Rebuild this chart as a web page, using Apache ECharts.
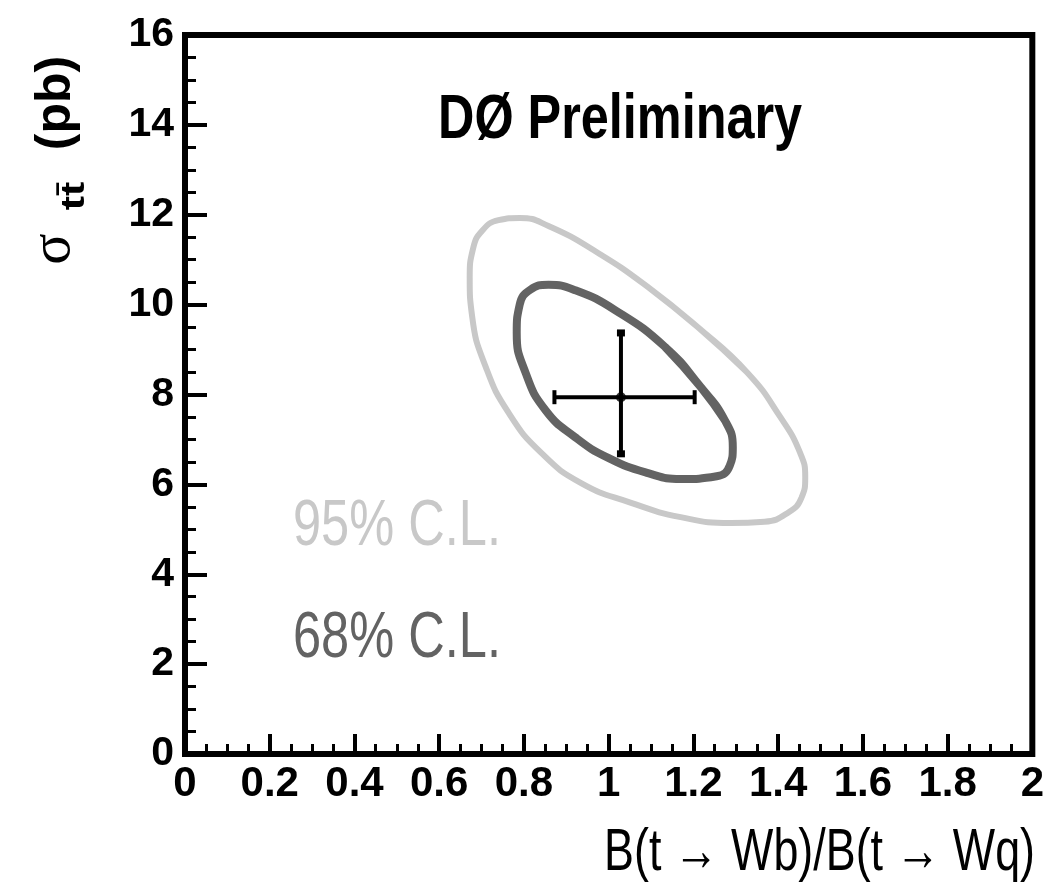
<!DOCTYPE html>
<html>
<head>
<meta charset="utf-8">
<script src="https://cdn.jsdelivr.net/npm/echarts@6/dist/echarts.min.js"></script>
<style>html,body{margin:0;padding:0;background:#fff;}#c{width:1047px;height:887px;}</style>
</head>
<body>
<div id="c"></div>
<script>
// ---- data ----
const xTickValues = [0, 0.2, 0.4, 0.6, 0.8, 1, 1.2, 1.4, 1.6, 1.8, 2];
const yTickValues = [0, 2, 4, 6, 8, 10, 12, 14, 16];
// closed contours; the last two points repeat the first ones so the smoothed loop has no seam
const contour95 = [
  [1.093, 10.39], [1.210, 9.50], [1.328, 8.48], [1.405, 7.50], [1.452, 6.70],
  [1.464, 6.16], [1.455, 5.70], [1.425, 5.38], [1.368, 5.17], [1.288, 5.14],
  [1.170, 5.27], [1.053, 5.59], [0.935, 6.03], [0.841, 6.70], [0.764, 7.59],
  [0.710, 8.61], [0.678, 9.72], [0.672, 10.60], [0.680, 11.25], [0.702, 11.65],
  [0.740, 11.88], [0.790, 11.93], [0.858, 11.75], [0.975, 11.15], [1.093, 10.39],
  [1.210, 9.50], [1.328, 8.48]
];
const contour68 = [
  [1.133, 9.06], [1.217, 8.17], [1.274, 7.43], [1.293, 6.83], [1.286, 6.42],
  [1.255, 6.18], [1.170, 6.12], [1.093, 6.25], [0.999, 6.59], [0.921, 7.05],
  [0.851, 7.65], [0.804, 8.48], [0.783, 9.37], [0.790, 10.00], [0.815, 10.33],
  [0.858, 10.44], [0.921, 10.32], [1.015, 9.88], [1.133, 9.06], [1.217, 8.17],
  [1.274, 7.43]
];
const bestFit = [1.029, 7.94];
const xErrRange = [0.872, 1.203];
const yErrRange = [6.68, 9.37];
const labels = { title: 'DØ Preliminary', cl95: '95% C.L.', cl68: '68% C.L.',
  xName: 'B(t \u2192 Wb)/B(t \u2192 Wq)', ySym: '\u03c3', ySub: 'tt\u0304', yUnit: '(pb)' };

const SANS = "'Liberation Sans', Arial, sans-serif";
const chart = echarts.init(document.getElementById('c'), null, { renderer: 'canvas' });

const option = {
  backgroundColor: '#ffffff',
  animation: false,
  grid: { left: 185, right: 11, top: 35, bottom: 133, show: true,
          borderColor: '#000', borderWidth: 6, backgroundColor: 'transparent' },
  xAxis: {
    type: 'value', min: xTickValues[0], max: xTickValues[xTickValues.length - 1], interval: 0.2,
    axisLine: { show: false },
    axisTick: { show: true, inside: true, length: 20, lineStyle: { color: '#000', width: 4 } },
    minorTick: { show: true, splitNumber: 4, length: 10, lineStyle: { color: '#000', width: 3 } },
    splitLine: { show: false },
    axisLabel: { margin: 9, color: '#000', fontFamily: SANS, fontWeight: 'bold', fontSize: 42,
      showMinLabel: true, showMaxLabel: true }
  },
  yAxis: {
    type: 'value', min: yTickValues[0], max: yTickValues[yTickValues.length - 1], interval: 2,
    axisLine: { show: false },
    axisTick: { show: true, inside: true, length: 22, lineStyle: { color: '#000', width: 4 } },
    minorTick: { show: true, splitNumber: 4, length: 11, lineStyle: { color: '#000', width: 3 } },
    splitLine: { show: false },
    axisLabel: { margin: 11, color: '#000', fontFamily: SANS, fontWeight: 'bold', fontSize: 41,
      showMinLabel: true, showMaxLabel: true }
  },
  series: [
    { type: 'line', data: contour95, smooth: 0.5, symbol: 'none',
      lineStyle: { color: '#c8c8c8', width: 6 }, z: 2 },
    { type: 'line', data: contour68, smooth: 0.5, symbol: 'none',
      lineStyle: { color: '#636363', width: 8 }, z: 3 },
    { type: 'line', data: [[xErrRange[0], bestFit[1]], [xErrRange[1], bestFit[1]]],
      symbol: 'rect', symbolSize: [4, 14], itemStyle: { color: '#000' },
      lineStyle: { color: '#000', width: 4 }, z: 4 },
    { type: 'line', data: [[bestFit[0], yErrRange[1]], [bestFit[0], yErrRange[0]]],
      symbol: 'rect', symbolSize: [8, 7], itemStyle: { color: '#000' },
      lineStyle: { color: '#000', width: 4 }, z: 4 },
    { type: 'scatter', data: [bestFit], symbol: 'circle', symbolSize: 10,
      itemStyle: { color: '#000' }, z: 5 }
  ],
  graphic: [
    { type: 'text', x: 438, y: 121, scaleX: 0.80, z: 10,
      style: { text: labels.title, fontFamily: SANS, fontWeight: 'bold', fontSize: 63,
               fill: '#000', verticalAlign: 'middle', align: 'left' } },
    { type: 'text', x: 293, y: 527, scaleX: 0.79, z: 10,
      style: { text: labels.cl95, fontFamily: SANS, fontSize: 64,
               fill: '#c8c8c8', verticalAlign: 'middle', align: 'left' } },
    { type: 'text', x: 293, y: 639, scaleX: 0.79, z: 10,
      style: { text: labels.cl68, fontFamily: SANS, fontSize: 64,
               fill: '#636363', verticalAlign: 'middle', align: 'left' } },
    { type: 'text', x: 1035, y: 854, scaleX: 0.76, z: 10,
      style: { text: labels.xName, fontFamily: SANS, fontSize: 59,
               fill: '#000', verticalAlign: 'middle', align: 'right' } },
    { type: 'text', x: 54, y: 249, rotation: Math.PI / 2, z: 10,
      style: { text: labels.ySym, fontFamily: "'Liberation Serif', 'DejaVu Serif', serif", fontSize: 58,
               fill: '#000', verticalAlign: 'middle', align: 'center' } },
    { type: 'text', x: 75, y: 196, rotation: Math.PI / 2, scaleX: 1.25, z: 10,
      style: { text: labels.ySub, fontFamily: SANS, fontWeight: 'bold', fontSize: 34,
               fill: '#000', verticalAlign: 'middle', align: 'center' } },
    { type: 'text', x: 56, y: 103, rotation: Math.PI / 2, z: 10,
      style: { text: labels.yUnit, fontFamily: SANS, fontWeight: 'bold', fontSize: 50,
               fill: '#000', verticalAlign: 'middle', align: 'center' } }
  ]
};
chart.setOption(option);
</script>
</body>
</html>
